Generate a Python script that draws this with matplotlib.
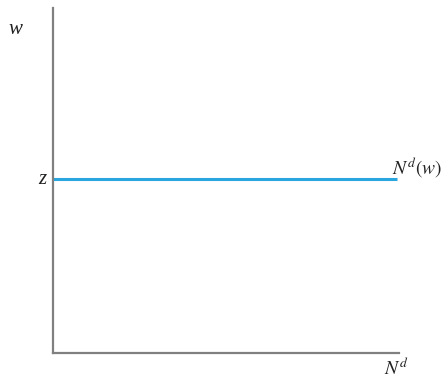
import numpy as np
import matplotlib
matplotlib.use('Agg')
import matplotlib.pyplot as plt

# labor demand curve: flat at w = z
x_vals = [0, 9.95]
z = 5.04
nd_vals = [z, z]

fig = plt.figure(figsize=(4.44, 3.8), dpi=100)
ax = fig.add_axes([0.119, 0.071, 0.78, 0.908])
ax.set_xlim(0, 10)
ax.set_ylim(0, 10)

ax.plot(x_vals, nd_vals, color='#2aa6de', lw=2.2, solid_capstyle='butt')

for s in ['top', 'right']:
    ax.spines[s].set_visible(False)
for s in ['left', 'bottom']:
    ax.spines[s].set_color('#808080')
    ax.spines[s].set_linewidth(1.6)
ax.set_xticks([])
ax.set_yticks([])

font = dict(family='Liberation Serif', style='italic', size=15, color='#222222')
mfont = dict(size=14, color='#222222', math_fontfamily='stix')
fig.text(15 / 444, 1 - 30 / 380, 'w', ha='center', va='center', **font)
ax.text(-0.2, z, 'z', ha='right', va='center', **font)
fig.text(392 / 444, 1 - 180 / 380, r'$N^d(w)$', ha='left', va='bottom', **mfont)
fig.text(396 / 444, 1 - 379 / 380, r'$N^d$', ha='center', va='bottom', **mfont)

fig.savefig('out.png', dpi=100)
